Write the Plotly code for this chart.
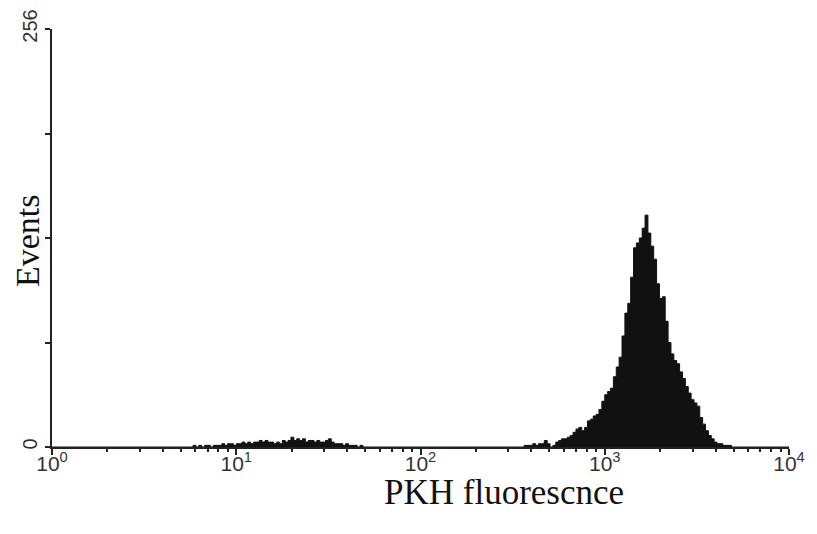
import numpy as np
import plotly.graph_objects as go

# Histogram of 256 log channels (64 per decade) spanning 10^0 .. 10^4
n_channels = 256
channels_per_decade = 64

# low-intensity population, counts starting at channel 49
low_start = 49
low_counts = [1, 0, 1, 0, 1, 1, 0, 1, 1, 1, 2, 1, 2, 2, 1, 2, 2, 3, 2, 3,
              2, 3, 3, 4, 3, 4, 3, 3, 2, 3, 2, 4, 3, 4, 6, 4, 5, 4, 5, 3,
              4, 4, 3, 4, 3, 3, 4, 5, 3, 2, 2, 2, 1, 2, 1, 1, 1, 0, 1]

# bright PKH-labelled population, counts starting at channel 164
high_start = 164
high_counts = [1, 1, 1, 2, 1, 2, 2, 4, 2, 0, 1, 3, 4, 5, 5, 6, 7, 9, 11, 12,
               10, 12, 16, 17, 19, 20, 23, 28, 32, 34, 36, 43, 49, 55, 68, 82, 88, 104, 122, 125,
               128, 134, 142, 131, 123, 115, 100, 91, 92, 77, 64, 57, 53, 51, 46, 42, 37, 33, 29, 27,
               25, 18, 14, 10, 7, 5, 3, 2, 2, 1, 1, 1]

x_tick_vals = [1, 10, 100, 1000, 10000]
x_tick_text = ["10<sup>0</sup>", "10<sup>1</sup>", "10<sup>2</sup>", "10<sup>3</sup>", "10<sup>4</sup>"]
y_tick_vals = [0, 64, 128, 192, 256]
y_tick_text = ["0", "", "", "", "256"]

counts = np.zeros(n_channels)
counts[low_start:low_start + len(low_counts)] = low_counts
counts[high_start:high_start + len(high_counts)] = high_counts

edges = 10 ** (np.arange(n_channels + 1) / channels_per_decade)
y_step = np.append(counts, counts[-1])

minor_vals = [m * 10 ** d for d in range(4) for m in range(2, 10)]

fig = go.Figure()
fig.add_trace(go.Scatter(
    x=edges, y=y_step, mode="lines", line=dict(shape="hv", color="#111111", width=1),
    fill="tozeroy", fillcolor="#111111", hoverinfo="skip", showlegend=False))

axis_col = "#222222"
fig.update_layout(
    width=809, height=526,
    margin=dict(l=44, r=28, t=21, b=87),
    paper_bgcolor="white", plot_bgcolor="white",
    xaxis=dict(type="log", range=[0, 4], showgrid=False, zeroline=False, automargin=False,
               showline=True, linecolor=axis_col, linewidth=2,
               ticks="outside", ticklen=6, tickwidth=1.5, tickcolor=axis_col,
               tickmode="array", tickvals=x_tick_vals, ticktext=x_tick_text,
               ticklabelstandoff=-9,
               tickfont=dict(family="Liberation Sans, Arial", size=21, color="#333333"),
               minor=dict(tickmode="array", tickvals=minor_vals, ticks="outside",
                          ticklen=3, tickwidth=1.5, tickcolor=axis_col)),
    yaxis=dict(range=[0, 256], showgrid=False, zeroline=False, automargin=False,
               showline=True, linecolor=axis_col, linewidth=2,
               ticks="outside", ticklen=5, tickwidth=1.5, tickcolor=axis_col,
               tickmode="array", tickvals=y_tick_vals, ticktext=y_tick_text,
               tickangle=-90,
               tickfont=dict(family="Liberation Sans, Arial", size=20, color="#333333")),
    annotations=[
        dict(text="PKH fluorescnce", xref="paper", yref="paper", x=0.613, y=-0.11,
             xanchor="center", yanchor="middle", showarrow=False,
             font=dict(family="Liberation Serif, Times New Roman", size=35, color="#111111")),
        dict(text="Events", xref="paper", yref="paper", x=-0.034, y=0.495,
             xanchor="center", yanchor="middle", showarrow=False, textangle=-90,
             font=dict(family="Liberation Serif, Times New Roman", size=34, color="#111111")),
    ],
)

fig.write_html("out.html")
